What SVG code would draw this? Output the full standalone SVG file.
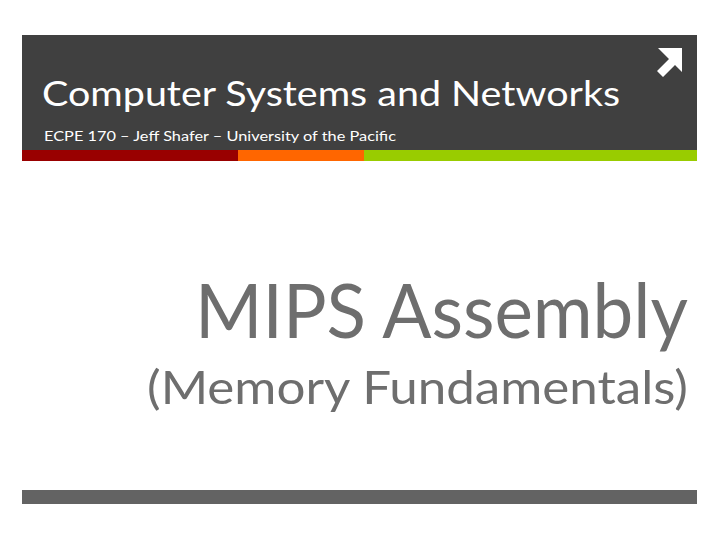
<svg xmlns="http://www.w3.org/2000/svg" width="720" height="540" viewBox="0 0 720 540">
<style>
.t{font-family:Lato,"Open Sans","Liberation Sans",sans-serif}
</style>
<rect width="720" height="540" fill="#fff"/>
<g id="header">
<rect x="22" y="35" width="675" height="115" fill="#404040"/>
<rect x="22" y="150" width="216" height="11" fill="#990000"/>
<rect x="238" y="150" width="126" height="11" fill="#ff6600"/>
<rect x="364" y="150" width="333" height="11" fill="#99cc00"/>
<text class="t" x="42" y="106" font-size="34" fill="#fff" textLength="578" lengthAdjust="spacingAndGlyphs">Computer Systems and Networks</text>
<text class="t" x="44" y="141" font-size="14" fill="#fff" textLength="352" lengthAdjust="spacingAndGlyphs">ECPE 170 – Jeff Shafer – University of the Pacific</text>
<path d="M658 48 L682 48 L682 72 L675 65 L663 77 L657 71 L669 59 Z" fill="#fff"/>
</g>
<g id="title">
<text class="t" x="688" y="338" font-size="76" fill="#6e6e6e" text-anchor="end" textLength="493" lengthAdjust="spacingAndGlyphs">MIPS Assembly</text>
<text class="t" x="688" y="404" font-size="46" fill="#6e6e6e" text-anchor="end" textLength="541" lengthAdjust="spacingAndGlyphs">(Memory Fundamentals)</text>
</g>
<rect x="22" y="490" width="675" height="14" fill="#636363"/>
</svg>
